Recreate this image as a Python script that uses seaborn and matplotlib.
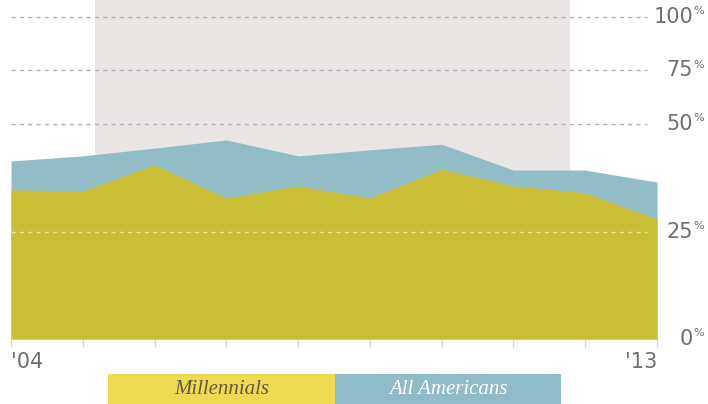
import numpy as np
import seaborn as sns
import matplotlib.pyplot as plt
from matplotlib.patches import Rectangle

# Values (share, %)
years = [2004, 2005, 2006, 2007, 2008, 2009, 2010, 2011, 2012, 2013]
all_americans = [41.4, 42.6, 44.4, 46.3, 42.6, 44.0, 45.3, 39.3, 39.3, 36.5]
millennials = [34.7, 34.4, 40.5, 32.8, 35.6, 32.8, 39.5, 35.6, 34.0, 27.9]
grid_levels = [25, 50, 75, 100]
tick_levels = [0, 25, 50, 75, 100]
shade_span = (2005.17, 2011.79)
year_labels = ["'04", "'13"]
legend_labels = ["Millennials", "All Americans"]

YELLOW = "#cbbe37"
BLUE = "#93bdc6"
LEG_YELLOW = "#efd951"
LEG_BLUE = "#8fbcc6"
SHADE = "#e9e5e5"
TEXT = "#6e6e6e"


# the upper half of the axis is squeezed to half the slope of the lower half
def forward(v):
	v = np.asarray(v, dtype=float)
	return np.where(v <= 50, v, 50 + (v - 50) / 2.0)


def inverse(t):
	t = np.asarray(t, dtype=float)
	return np.where(t <= 50, t, 50 + (t - 50) * 2.0)


sns.set_theme(style="white")
plt.rcParams['font.family'] = ['DejaVu Sans']

fig = plt.figure(figsize=(7.08, 4.04), dpi=100)
ax = fig.add_axes([11 / 708, 65 / 404, 646 / 708, 339 / 404])
ax.set_yscale('function', functions=(forward, inverse))

# Shaded period and the two areas
ax.axvspan(shade_span[0], shade_span[1], color=SHADE, lw=0, zorder=0)
ax.fill_between(years, 0, all_americans, color=BLUE, lw=0, zorder=2)
ax.fill_between(years, 0, millennials, color=YELLOW, lw=0, zorder=3)

# Dashed guide lines
for lev in grid_levels:
	col = "#efe49a" if lev == 25 else "#b3b3b3"
	ax.hlines(lev, years[0], 2012.86, colors=col, linestyles=(0, (3, 3)), lw=1, zorder=4)

ax.set_xlim(years[0], years[-1])
ax.set_ylim(0, 107.7)
for s in ax.spines.values():
	s.set_visible(False)
ax.set_xticks(years)
ax.set_xticklabels([])
ax.set_yticks([])
ax.tick_params(axis='x', direction='out', length=6, width=1, color='#d6d6d6', bottom=True)

# Right-hand percentage labels with raised % sign
ytrans = ax.get_yaxis_transform()
for lev in tick_levels:
	ax.annotate(str(lev), xy=(1.0557, lev), xycoords=ytrans, ha='right', va='center',
				fontsize=15, color=TEXT, annotation_clip=False)
	ax.annotate("%", xy=(1.0557, lev), xycoords=ytrans, xytext=(0.5, 4), textcoords='offset points',
				ha='left', va='center', fontsize=8, color=TEXT, annotation_clip=False)

# Year labels at both ends
ax.text(years[0], -0.068, year_labels[0], transform=ax.get_xaxis_transform(), ha='left', va='center',
		fontsize=15, color=TEXT)
ax.text(years[-1], -0.068, year_labels[1], transform=ax.get_xaxis_transform(), ha='right', va='center',
		fontsize=15, color=TEXT)

# Legend boxes along the bottom
fig.patches.append(Rectangle((108 / 708, 0), 227 / 708, 30 / 404, transform=fig.transFigure,
							 color=LEG_YELLOW, lw=0))
fig.patches.append(Rectangle((335 / 708, 0), 226 / 708, 30 / 404, transform=fig.transFigure,
							 color=LEG_BLUE, lw=0))
fig.text(221.5 / 708, 14 / 404, legend_labels[0], ha='center', va='center', fontsize=15,
		 family='Liberation Serif', style='italic', color='#5f5a45')
fig.text(448 / 708, 14 / 404, legend_labels[1], ha='center', va='center', fontsize=15,
		 family='Liberation Serif', style='italic', color='white')

fig.savefig("out.png", dpi=100)
